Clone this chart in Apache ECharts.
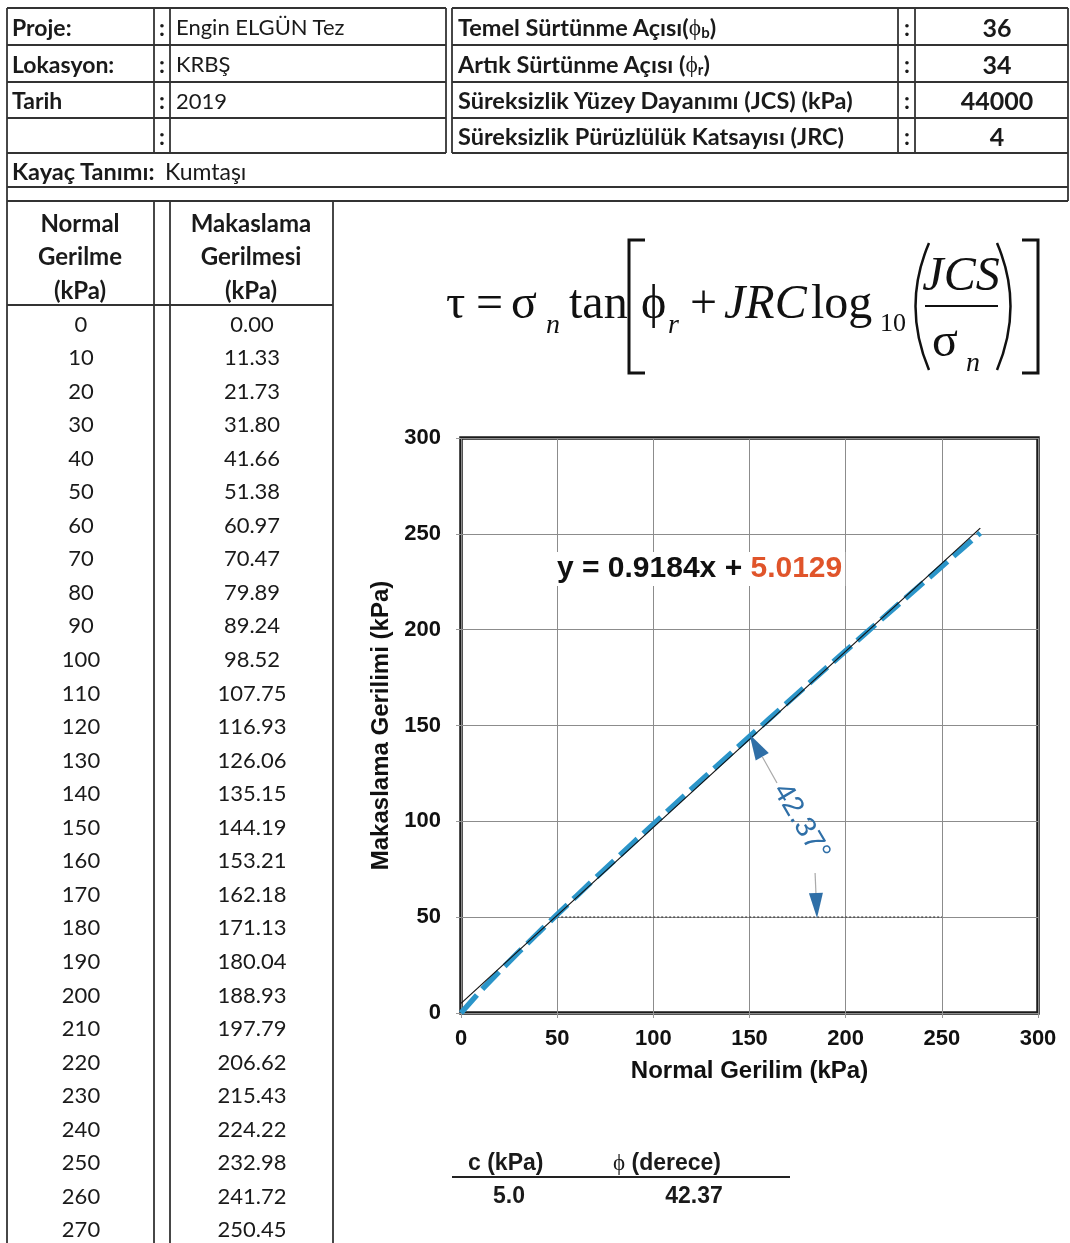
<!DOCTYPE html>
<html><head><meta charset="utf-8">
<script src="https://cdn.jsdelivr.net/npm/echarts@6/dist/echarts.min.js"></script>
<style>
html,body{margin:0;padding:0;background:#fff;}
#wrap{position:relative;width:1070px;height:1243px;overflow:hidden;background:#fff;}
#chart{position:absolute;left:0;top:0;width:1070px;height:1243px;}
#svg{position:absolute;left:0;top:0;}
</style></head><body>
<div id="wrap"><div id="chart"></div><svg id="svg" width="1070" height="1243" xmlns="http://www.w3.org/2000/svg"></svg></div>
<script>
// ---------------- DATA ----------------
const normalStress = [0,10,20,30,40,50,60,70,80,90,100,110,120,130,140,150,160,170,180,190,200,210,220,230,240,250,260,270];
const shearStress = [0.00,11.33,21.73,31.80,41.66,51.38,60.97,70.47,79.89,89.24,98.52,107.75,116.93,126.06,135.15,144.19,153.21,162.18,171.13,180.04,188.93,197.79,206.62,215.43,224.22,232.98,241.72,250.45];
const fitLineX = [0, 270];
const fitLineY = [5.01, 253.0];
const refLineX = [50, 250];
const refLineY = [50, 50];
const axisTicks = [0, 50, 100, 150, 200, 250, 300];
const projectLabels = ["Proje:", "Lokasyon:", "Tarih", ""];
const projectValues = ["Engin ELGÜN Tez", "KRBŞ", "2019", ""];
const paramLabels = ["Temel Sürtünme Açısı(", "Artık Sürtünme Açısı (", "Süreksizlik Yüzey Dayanımı (JCS) (kPa)", "Süreksizlik Pürüzlülük Katsayısı (JRC)"];
const paramSubs = ["b", "r", "", ""];
const paramValues = ["36", "34", "44000", "4"];
const rockLabel = "Kayaç Tanımı:";
const rockValue = "Kumtaşı";
const fitSlope = "0.9184";
const fitIntercept = "5.0129";
const cohesion = "5.0";
const frictionAngle = "42.37";

// ---------------- LAYOUT / STYLE ----------------
const SANS = "Lato, 'Open Sans', sans-serif";
const CH = "'Liberation Sans', Arial, sans-serif";
const SERIF = "'Liberation Serif', 'Times New Roman', serif";
const LINE = '#333';
let s = '';
function ln(x1,y1,x2,y2,w){ s += `<line x1="${x1}" y1="${y1}" x2="${x2}" y2="${y2}" stroke="${LINE}" stroke-width="${w||1.8}"/>`; }
function tx(x,y,t,opt){ opt=opt||{}; s += `<text x="${x}" y="${y}" font-family="${opt.ff||SANS}" font-size="${opt.fs||22}" font-weight="${opt.fw||'normal'}" fill="${opt.fill||'#1a1a1a'}" text-anchor="${opt.anchor||'start'}" dominant-baseline="${opt.db||'central'}"${opt.fst?' font-style="italic"':''}>${t}</text>`; }

// top table
const rowsY = [8,45,82,118,153];
rowsY.forEach(y=>{ ln(7,y,446,y); ln(452,y,1068,y); });
[7,154,170,446].forEach(x=>ln(x,8,x,153));
[452,898,915,1068].forEach(x=>ln(x,8,x,153));
ln(7,153,7,201); ln(1068,153,1068,201);
ln(7,187,1068,187); ln(7,201,1068,201);
for(let i=0;i<4;i++){
  const cy = (rowsY[i]+rowsY[i+1])/2;
  tx(12,cy,projectLabels[i],{fw:'bold',fs:23});
  tx(162,cy,':',{fw:'bold',anchor:'middle',fs:23});
  tx(176,cy,projectValues[i]);
  let lab = paramLabels[i];
  if(paramSubs[i]) lab += `<tspan font-family="${SERIF}" font-weight="normal">ϕ</tspan><tspan font-size="15" dy="5">${paramSubs[i]}</tspan><tspan dy="-5">)</tspan>`;
  tx(458,cy,lab,{fw:'bold',fs:23.5});
  tx(907,cy,':',{fw:'bold',anchor:'middle',fs:23});
  tx(997,cy,paramValues[i],{fw:'bold',anchor:'middle',fs:25});
}
tx(12,171,rockLabel,{fw:'bold',fs:23.5});
tx(165,171,rockValue,{fs:23});

// data table
[7,154,170,333].forEach(x=>ln(x,201,x,1243));
ln(7,305,333,305);
[["Normal","Gerilme","(kPa)"],["Makaslama","Gerilmesi","(kPa)"]].forEach((arr,c)=>{
  arr.forEach((t,k)=>tx(c?251:80, 222+k*33.5, t, {fw:'bold',anchor:'middle',fs:24}));
});
normalStress.forEach((v,i)=>{
  const cy = 323 + i*33.55;
  tx(81,cy,String(v),{anchor:'middle',fs:22});
  tx(252,cy,shearStress[i].toFixed(2),{anchor:'middle',fs:22});
});

// formula
s += `<g font-family="${SERIF}" fill="#111" dominant-baseline="alphabetic">`;
s += `<text x="446" y="318" font-size="48">τ</text>`;
s += `<text x="476" y="318" font-size="48">=</text>`;
s += `<text x="511" y="318" font-size="48">σ</text>`;
s += `<text x="546" y="333" font-size="28" font-style="italic">n</text>`;
s += `<text x="569" y="318" font-size="48">tan</text>`;
s += `<text x="641" y="318" font-size="48">ϕ</text>`;
s += `<text x="668" y="333" font-size="28" font-style="italic">r</text>`;
s += `<text x="690" y="318" font-size="48">+</text>`;
s += `<text x="724" y="318" font-size="48" font-style="italic">JRC</text>`;
s += `<text x="811" y="318" font-size="48">log</text>`;
s += `<text x="880" y="331" font-size="26">10</text>`;
s += `<text x="961" y="290" font-size="48" font-style="italic" text-anchor="middle">JCS</text>`;
s += `<text x="932" y="356" font-size="48">σ</text>`;
s += `<text x="966" y="371" font-size="28" font-style="italic">n</text>`;
s += `</g>`;
s += `<line x1="925" y1="306" x2="998" y2="306" stroke="#111" stroke-width="2"/>`;
s += `<path d="M645,240 H629 V373 H645" fill="none" stroke="#111" stroke-width="3"/>`;
s += `<path d="M1022,240 H1038 V373 H1022" fill="none" stroke="#111" stroke-width="3"/>`;
s += `<path d="M929,243 Q902,306 929,370" fill="none" stroke="#111" stroke-width="2.5"/>`;
s += `<path d="M997,243 Q1024,306 997,370" fill="none" stroke="#111" stroke-width="2.5"/>`;

// bottom result table
tx(468,1162,'c (kPa)',{ff:CH,fw:'bold',fs:23});
tx(613,1162,`<tspan font-family="${SERIF}" font-weight="normal">ϕ</tspan> (derece)`,{ff:CH,fw:'bold',fs:23});
s += `<line x1="452" y1="1177" x2="790" y2="1177" stroke="#222" stroke-width="2"/>`;
tx(509,1195,cohesion,{ff:CH,fw:'bold',fs:23,anchor:'middle'});
tx(694,1195,frictionAngle,{ff:CH,fw:'bold',fs:23,anchor:'middle'});

document.getElementById('svg').innerHTML = s;

// ---------------- CHART ----------------
const chart = echarts.init(document.getElementById('chart'));
const axisCommon = {
  type:'value', min:axisTicks[0], max:axisTicks[axisTicks.length-1], interval:axisTicks[1]-axisTicks[0],
  nameLocation:'middle',
  nameTextStyle:{fontFamily:CH, fontWeight:'bold', fontSize:24, color:'#111'},
  axisLine:{show:false},
  axisTick:{show:true, length:5, lineStyle:{color:'#999', width:1}},
  axisLabel:{fontFamily:CH, fontWeight:'bold', fontSize:22, color:'#111'},
  splitLine:{show:true, lineStyle:{color:'#8c8c8c', width:1}}
};
chart.setOption({
  animation:false,
  backgroundColor:'transparent',
  grid:{left:461, top:438, width:577, height:575, show:true, borderColor:'#1a1a1a', borderWidth:3.5, backgroundColor:'transparent'},
  xAxis:Object.assign({}, axisCommon, {name:'Normal Gerilim (kPa)', nameGap:46, axisLabel:Object.assign({}, axisCommon.axisLabel, {margin:15})}),
  yAxis:Object.assign({}, axisCommon, {name:'Makaslama Gerilimi (kPa)', nameGap:66, nameRotate:90, axisLabel:Object.assign({}, axisCommon.axisLabel, {margin:20})}),
  series:[
    {type:'line', name:'ref', data:refLineX.map((x,i)=>[x,refLineY[i]]), symbol:'none', z:2,
     lineStyle:{color:'#555', width:1.6, type:[2,2]}},
    {type:'line', name:'data', data:normalStress.map((x,i)=>[x,shearStress[i]]), symbol:'none', z:3,
     lineStyle:{color:'#2b95c9', width:5.5, type:[24,8]}},
    {type:'line', name:'fit', data:fitLineX.map((x,i)=>[x,fitLineY[i]]), symbol:'none', z:4,
     lineStyle:{color:'#111', width:1.2}}
  ]
});

// annotations (anchored in data coordinates)
const P = (x,y)=>chart.convertToPixel({gridIndex:0},[x,y]);
const eqAnchor = P(49.9, 230.6);
const tip1 = P(150, 145.5), c1 = P(164.3, 120), txtC = P(176.8, 99.6), c2a = P(184.1, 73), tip2 = P(185.1, 49.6);
function arrowHead(tip, from, L, W){
  const dx = from[0]-tip[0], dy = from[1]-tip[1], d = Math.hypot(dx,dy);
  const ux = dx/d, uy = dy/d, bx = tip[0]+ux*L, by = tip[1]+uy*L, px = -uy*W/2, py = ux*W/2;
  return {points:[[tip[0],tip[1]],[bx+px,by+py],[bx-px,by-py]], base:[bx,by]};
}
const a1 = arrowHead(tip1, c1, 26, 15);
const a2 = arrowHead(tip2, c2a, 25, 14);
const ARC = '#2f6fa7';
chart.setOption({graphic:[
  {type:'text', left:eqAnchor[0]-3, top:eqAnchor[1]-19, z:10,
   style:{text:'{a|y = '+fitSlope+'x + }{b|'+fitIntercept+'}', backgroundColor:'#fff', padding:[2,3],
     rich:{a:{fontFamily:CH, fontWeight:'bold', fontSize:30, fill:'#111'}, b:{fontFamily:CH, fontWeight:'bold', fontSize:30, fill:'#e0542a'}}}},
  {type:'polygon', shape:{points:a1.points}, style:{fill:ARC}, z:10},
  {type:'line', shape:{x1:a1.base[0], y1:a1.base[1], x2:c1[0], y2:c1[1]}, style:{stroke:'#a9a9a9', lineWidth:1.2}, z:10},
  {type:'text', x:txtC[0], y:txtC[1], rotation:-Math.PI*59.5/180, z:10,
   style:{text:frictionAngle+'°', fontFamily:CH, fontSize:29, fill:ARC, align:'center', verticalAlign:'middle'}},
  {type:'line', shape:{x1:c2a[0], y1:c2a[1], x2:a2.base[0], y2:a2.base[1]}, style:{stroke:'#a9a9a9', lineWidth:1.2}, z:10},
  {type:'polygon', shape:{points:a2.points}, style:{fill:ARC}, z:10}
]});
</script>
</body></html>
